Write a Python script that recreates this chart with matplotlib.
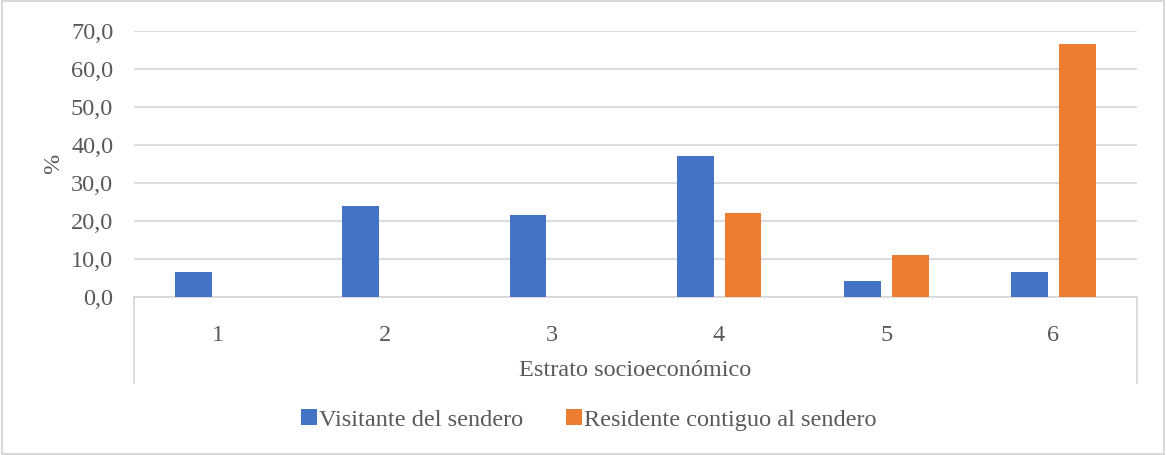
import numpy as np
import matplotlib.pyplot as plt
from matplotlib.lines import Line2D

plt.rcParams['font.family'] = ['Liberation Serif', 'DejaVu Serif']

estratos = ['1', '2', '3', '4', '5', '6']
visitante = [6.5, 23.9, 21.7, 37.0, 4.3, 6.5]
residente = [0.0, 0.0, 0.0, 22.2, 11.1, 66.7]
series_names = ['Visitante del sendero', 'Residente contiguo al sendero']
yticks = [0, 10, 20, 30, 40, 50, 60, 70]

azul = '#4472C4'
naranja = '#ED7D31'
gris_txt = '#595959'
gris_lin = '#D9D9D9'
fs = 17.5

fig = plt.figure(figsize=(11.66, 4.55), dpi=100)
ax = fig.add_axes([0.1149, 0.3473, 0.8602, 0.5846])

x = np.arange(len(estratos))
w = 0.22
off = 0.143
ax.bar(x - off, visitante, w, color=azul, label=series_names[0], zorder=3)
ax.bar(x + off, residente, w, color=naranja, label=series_names[1], zorder=3)

ax.set_xlim(-0.5, len(estratos) - 0.5)
ax.set_ylim(0, 70)
ax.set_yticks(yticks)
ax.set_yticklabels([f'{v:.1f}'.replace('.', ',') for v in yticks])
ax.set_xticks(x)
ax.set_xticklabels(estratos)
ax.tick_params(axis='both', length=0, labelsize=fs, colors=gris_txt)
ax.tick_params(axis='x', pad=20)
ax.tick_params(axis='y', pad=15)

ax.yaxis.grid(True, color=gris_lin, linewidth=1.3, zorder=0)
for s in ['top', 'right', 'left']:
    ax.spines[s].set_visible(False)
ax.spines['bottom'].set_color(gris_lin)
ax.spines['bottom'].set_linewidth(1.3)

# vertical edges of the category axis, running down past the labels
for xa in (0, 1):
    ax.add_line(Line2D([xa, xa], [0, -0.323], transform=ax.transAxes,
                       color=gris_lin, linewidth=1.3, clip_on=False))

ax.set_xlabel('Estrato socioeconómico', fontsize=fs, color=gris_txt, labelpad=10)
ax.set_ylabel('%', fontsize=fs, color=gris_txt, labelpad=5)

fig.legend(loc='center', bbox_to_anchor=(0.505, 0.077), ncol=2, frameon=False,
           fontsize=fs, labelcolor=gris_txt, handlelength=0.65, handleheight=0.65,
           handletextpad=0.1, columnspacing=1.75)

# light border around the whole chart
fig.patches.append(plt.Rectangle((0.002, 0.003), 0.996, 0.994, transform=fig.transFigure,
                                 fill=False, edgecolor=gris_lin, linewidth=1.5))

fig.savefig('out.png', dpi=100)
